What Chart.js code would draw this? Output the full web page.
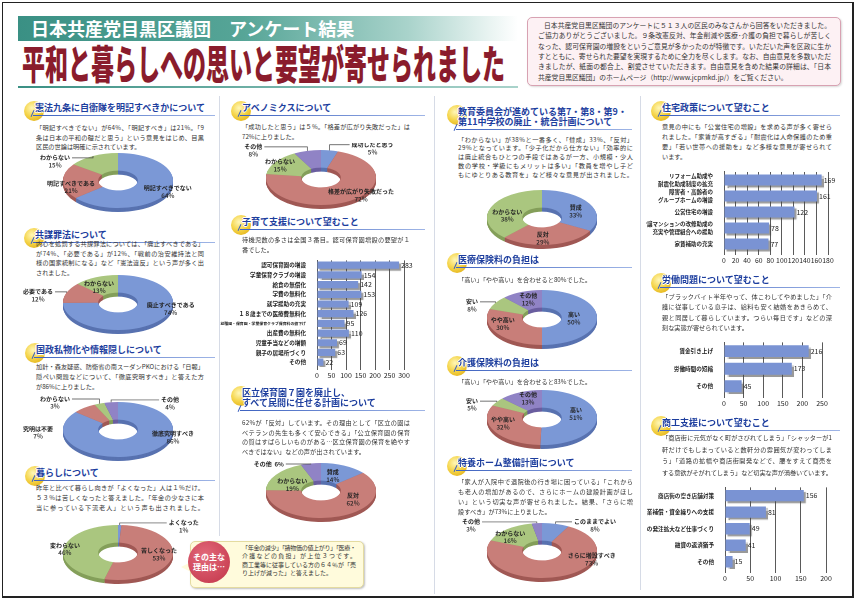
<!DOCTYPE html>
<html>
<head>
<meta charset="utf-8">
<script src="https://cdn.jsdelivr.net/npm/chart.js@4.4.0/dist/chart.umd.min.js"></script>
<style>
  body { margin: 0; width: 857px; height: 600px; position: relative; overflow: hidden; background: #fff;
         font-family: 'Noto Sans CJK JP', sans-serif; color: #333; }
  .abs { position: absolute; }
  .frame { left: 2px; top: 2px; width: 849px; height: 593px; border: 1px solid #222; border-right-width: 2px; border-bottom-width: 2px; }
  .band { left: 18px; top: 16px; width: 500px; height: 25px;
          background: linear-gradient(90deg, #3a9084 0%, #56a597 45%, #a9d3cb 78%, #ffffff 100%); }
  .band span { position: absolute; left: 13px; top: 0; font-size: 18px; line-height: 25px; font-weight: 700; color: #fff; white-space: nowrap; }
  .title { left: 22px; top: 42px; font-size: 40px; line-height: 40px; font-weight: 900; color: #8a1c2c; white-space: nowrap; transform-origin: 0 0; }
  .tline { left: 18px; top: 86px; width: 500px; height: 2px; background: linear-gradient(90deg, #3a9084, #a9d3cb); }
  .intro { left: 527px; top: 17px; width: 312px; height: 67px; border: 1.5px solid #d8a2b2; border-radius: 5px; background: #fdf1f4;
           box-shadow: 1px 1px 2px rgba(0,0,0,.15); }
  .sep { width: 1px; background: #d6dbe6; }
  .dot { border-radius: 50%; background: radial-gradient(circle at 40% 35%, #fff7b8 0%, #f5d54c 45%, #dca400 100%); }
  .htxt { font-size: 9px; line-height: 10px; font-weight: 700; color: #1d3e9e; white-space: nowrap;
          text-shadow: 1px 0 #fff, -1px 0 #fff, 0 1px #fff, 0 -1px #fff; }
  .uline { height: 1px; background: linear-gradient(90deg, #3d62c0, #9fb5e6); }
  .slash { width: 1px; height: 7px; background: #3d62c0; transform: rotate(25deg); }
  .ptxt { white-space: nowrap; color: #333; }
  .callbox { left: 190px; top: 541px; width: 172px; height: 45px; background: #fffbdc; border: 1px solid #e4dba0; border-radius: 5px;
             box-shadow: 1px 1px 2px rgba(0,0,0,.25); }
  .tail { left: 181px; top: 562px; width: 0; height: 0; border-top: 5px solid transparent; border-bottom: 5px solid transparent; border-right: 10px solid #fffbdc; }
  .redc { left: 188px; top: 541px; width: 42px; height: 42px; border-radius: 50%; background: radial-gradient(circle at 40% 35%, #e2697a, #c23448);
          color: #fff; font-weight: 700; font-size: 8px; line-height: 10px; text-align: center; box-sizing: border-box; padding-top: 11px; }
</style>
</head>
<body>
<div class="abs frame"></div>
<div class="abs band"><span>日本共産党目黒区議団　アンケート結果</span></div>
<div class="abs title" id="title">平和と暮らしへの思いと要望が寄せられました</div>
<div class="abs tline"></div>
<div class="abs intro"></div>

<div class="abs sep" style="left:219px;top:96px;height:440px"></div>
<div class="abs sep" style="left:434px;top:96px;height:498px"></div>
<div class="abs sep" style="left:640px;top:96px;height:494px"></div>

<div class="abs tail"></div>
<div class="abs callbox"></div>
<div class="abs redc">その主な<br>理由は…</div>

<script>
'use strict';

const FONT = "'Noto Sans CJK JP', sans-serif";

/* doughnut data */
const kenpoLabels = ['明記すべきでない', '明記すべきである', 'わからない'];
const kenpoValues = [64, 21, 15];

const kyoboLabels = ['廃止すべきである', '必要である', 'わからない'];
const kyoboValues = [74, 12, 13];

const kokuseiLabels = ['徹底究明すべき', '究明は不要', 'わからない', 'その他'];
const kokuseiValues = [86, 7, 3, 4];

const kurashiLabels = ['よくなった', '苦しくなった', '変わらない'];
const kurashiValues = [1, 53, 46];

const abeLabels = ['成功したと思う', '格差が広がり失敗だった', 'わからない', 'その他'];
const abeValues = [5, 72, 15, 8];

const hoikuLabels = ['賛成', '反対', 'わからない', 'その他'];
const hoikuValues = [14, 62, 19, 6];

const kyoikuLabels = ['賛成', '反対', 'わからない'];
const kyoikuValues = [33, 29, 38];

const iryoLabels = ['高い', 'やや高い', '安い', 'その他'];
const iryoValues = [50, 30, 8, 12];

const kaigoLabels = ['高い', 'やや高い', '安い', 'その他'];
const kaigoValues = [51, 32, 5, 13];

const tokuyoLabels = ['このままでよい', 'さらに増設すべき', 'わからない', 'その他'];
const tokuyoValues = [8, 73, 16, 3];

/* bar data */
const careLabels = ['認可保育園の増設', '学童保育クラブの増設', '給食の無償化', '学費の無料化', '就学援助の充実',
  '１８歳までの医療費無料化', '幼稚園・保育園・学童保育クラブ保育料の値下げ', '出産費の無料化', '児童手当などの増額',
  '親子の居場所づくり', 'その他'];
const careValues = [283, 154, 142, 153, 109, 126, 95, 110, 69, 63, 22];

const houseLabels = [['リフォーム助成や', '耐震化助成制度の拡充'], ['障害者・高齢者の', 'グループホームの増設'], '公営住宅の増設',
  ['分譲マンションの改修助成の', '充実や管理組合への援助'], '家賃補助の充実'];
const houseValues = [169, 161, 122, 78, 77];

const laborLabels = ['賃金引き上げ', '労働時間の短縮', 'その他'];
const laborValues = [216, 173, 45];

const shopLabels = ['商店街の空き店舗対策', '休業補償・資金繰りへの支援', '区の発注拡大など仕事づくり', '融資の返済猶予', 'その他'];
const shopValues = [156, 81, 49, 41, 15];

const PALETTE = ['#7b98d6', '#c87e79', '#aac67f', '#9083c5'];
const SIDES = ['#5872b0', '#a05854', '#849f5a', '#6a5e9f'];
const BAR = '#7a93d3';

function el(tag, cls, css, html) {
  const d = document.createElement(tag);
  if (cls) d.className = cls;
  if (css) d.style.cssText = css;
  if (html !== undefined) d.innerHTML = html;
  document.body.appendChild(d);
  return d;
}

/* justified text lines */
function para(x, y, w, lh, size, lines, justifyAll) {
  lines.forEach((s, i) => {
    const d = el('div', 'abs ptxt', `left:${x}px;top:${y - lh / 2 + i * lh}px;font-size:${size}px;line-height:${lh}px;`, s);
    if (i < lines.length - 1 || justifyAll) {
      const nat = d.getBoundingClientRect().width;
      d.style.letterSpacing = ((w - nat) / Math.max(s.length - 1, 1)) + 'px';
    }
  });
}

/* section header: yellow dot, blue title, underline */
function header(x, y, right, lines) {
  el('div', 'abs dot', `left:${x - 11}px;top:${y - 7}px;width:20px;height:20px;`);
  const ly = y + 7 + (lines.length - 1) * 10;
  el('div', 'abs uline', `left:${x - 2}px;top:${ly}px;width:${right - x + 2}px;`);
  el('div', 'abs slash', `left:${x - 3}px;top:${ly - 5}px;`);
  lines.forEach((s, i) => el('div', 'abs htxt', `left:${x}px;top:${y - 5 + i * 10}px;`, s));
}

/* 3D doughnut with labels */
const donutPlugin = {
  id: 'donut3d',
  beforeDatasetsDraw(chart, args, opts) {
    const ctx = chart.ctx;
    const arcs = chart.getDatasetMeta(0).data;
    ctx.save();
    for (let t = opts.depth; t > 0; t--) {
      arcs.forEach((a, i) => {
        ctx.beginPath();
        ctx.arc(a.x, a.y + t, a.outerRadius, a.startAngle, a.endAngle);
        ctx.arc(a.x, a.y + t, a.innerRadius, a.endAngle, a.startAngle, true);
        ctx.closePath();
        ctx.fillStyle = SIDES[i];
        ctx.fill();
      });
    }
    ctx.restore();
  },
  afterDatasetsDraw(chart, args, opts) {
    const ctx = chart.ctx, sy = opts.sy;
    const arcs = chart.getDatasetMeta(0).data;
    const values = chart.data.datasets[0].data;
    ctx.save();
    ctx.scale(1, 1 / sy);
    ctx.textAlign = 'center';
    ctx.textBaseline = 'middle';
    ctx.fillStyle = '#222';
    ctx.strokeStyle = '#444';
    ctx.lineWidth = 0.7;
    arcs.forEach((a, i) => {
      const p = opts.place[i];
      const mode = p[0];
      const mid = (a.startAngle + a.endAngle) / 2;
      const r = mode === 'in' ? (a.innerRadius + a.outerRadius) / 2 : a.outerRadius;
      const ax = a.x + r * Math.cos(mid);
      const ay = (a.y + r * Math.sin(mid)) * sy;
      const lx = ax + p[1], ly = ay + p[2];
      const name = chart.data.labels[i], pct = values[i] + '%';
      let lineY, halfW;
      ctx.font = `bold 6px ${FONT}`;
      if (mode === 'one') {
        const txt = name + '  ' + pct;
        ctx.fillText(txt, lx, ly);
        lineY = ly;
        halfW = ctx.measureText(txt).width / 2;
      } else {
        ctx.fillText(name, lx, ly - 3.6);
        halfW = ctx.measureText(name).width / 2;
        ctx.font = `500 6.3px ${FONT}`;
        ctx.fillText(pct, lx, ly + 3.6);
        lineY = ly - 3.6;
      }
      if (mode !== 'in') {
        const side = ax > lx ? 1 : -1;
        ctx.beginPath();
        ctx.moveTo(lx + side * (halfW + 2), lineY);
        ctx.lineTo(ax, lineY);
        ctx.lineTo(ax, ay);
        ctx.stroke();
      }
    });
    ctx.restore();
  }
};

function donut(cx, faceTop, labels, values, place) {
  const W = 200, H = 132, PT = 14, sy = 0.5;
  const wrap = el('div', 'abs', `left:${cx - W / 2}px;top:${faceTop - PT * sy}px;width:${W}px;height:${H}px;transform:scaleY(${sy});transform-origin:0 0;`);
  const cv = document.createElement('canvas');
  cv.width = W; cv.height = H;
  wrap.appendChild(cv);
  new Chart(cv, {
    type: 'doughnut',
    data: { labels: labels, datasets: [{ data: values, backgroundColor: PALETTE, borderWidth: 0, hoverOffset: 0, offset: 0 }] },
    options: {
      responsive: false, animation: false, cutout: '36%',
      layout: { padding: { top: PT, bottom: H - PT - 110, left: 0, right: 0 } },
      plugins: { legend: { display: false }, tooltip: { enabled: false }, donut3d: { sy: sy, depth: 8, place: place } },
      events: []
    },
    plugins: [donutPlugin]
  });
}

/* horizontal bars with value labels */
const barPlugin = {
  id: 'barDeco',
  beforeDatasetsDraw(chart) {
    const ctx = chart.ctx;
    ctx.save();
    ctx.shadowColor = 'rgba(70,70,70,0.55)';
    ctx.shadowOffsetX = 2;
    ctx.shadowOffsetY = 2;
    ctx.shadowBlur = 1;
  },
  afterDatasetsDraw(chart) {
    const ctx = chart.ctx;
    ctx.restore();
    const values = chart.data.datasets[0].data;
    ctx.save();
    ctx.font = `7px ${FONT}`;
    ctx.fillStyle = '#222';
    ctx.textAlign = 'left';
    ctx.textBaseline = 'middle';
    chart.getDatasetMeta(0).data.forEach((b, i) => ctx.fillText(values[i], b.x + 2, b.y));
    ctx.restore();
  }
};

function bars(plotLeft, plotTop, yW, plotW, plotH, labels, values, max, step, pct, labelSize, tickSize, lineH) {
  const PR = 14, PT = 2, XH = 12;
  const W = yW + plotW + PR, H = PT + plotH + XH;
  const cv = el('canvas', 'abs', `left:${plotLeft - yW}px;top:${plotTop - PT}px;`);
  cv.width = W; cv.height = H;
  new Chart(cv, {
    type: 'bar',
    data: { labels: labels, datasets: [{ data: values, backgroundColor: BAR, categoryPercentage: 1, barPercentage: pct }] },
    options: {
      indexAxis: 'y', responsive: false, animation: false, events: [],
      layout: { padding: { top: PT, right: PR, left: 0, bottom: 0 } },
      plugins: { legend: { display: false }, tooltip: { enabled: false } },
      scales: {
        x: {
          min: 0, max: max,
          ticks: { stepSize: step, autoSkip: false, maxRotation: 0, color: '#222', padding: 1, font: { family: FONT, size: tickSize } },
          grid: { color: '#5a5a5a', lineWidth: 1, tickLength: 3 },
          border: { display: false },
          afterFit(s) { s.height = XH; }
        },
        y: {
          ticks: { autoSkip: false, color: '#222', padding: 3, font: labelSize },
          grid: { display: false },
          border: { color: '#5a5a5a' },
          afterFit(s) { s.width = yW; }
        }
      }
    },
    plugins: [barPlugin]
  });
}

/* ---- header ---- */
const t = document.getElementById('title');
t.style.transform = `scaleX(${483 / t.getBoundingClientRect().width})`;

para(544, 25, 287, 10.4, 6.8, ['日本共産党目黒区議団のアンケートに５１３人の区民のみなさんから回答をいただきました。'], true);
para(538, 35.4, 293, 10.4, 6.8, [
  'ご協力ありがとうございました。９条改憲反対、年金削減や医療･介護の負担で暮らしが苦しく',
  'なった、認可保育園の増設をというご意見が多かったのが特徴です。いただいた声を区政に生か',
  'すとともに、寄せられた要望を実現するために全力を尽くします。なお、自由意見を多数いただ',
  'きましたが、紙面の都合上、割愛させていただきます。自由意見を含めた結果の詳細は、「日本',
  '共産党目黒区議団」のホームページ（http://www.jcpmkd.jp/）をご覧ください。'
]);

/* ---- column 1 ---- */
header(35, 108, 215, ['憲法九条に自衛隊を明記すべきかについて']);
para(36, 128, 168, 9.5, 6.2, [
  '「明記すべきでない」が64%、「明記すべき」は21%。「9',
  '条は日本の平和の礎だと思う」という意見をはじめ、目黒',
  '区民の世論は明確に示されています。'
]);
donut(118, 153, kenpoLabels, kenpoValues, [['in', 16, 3.5], ['in', -9.5, 6], ['out', -38, 5.5]]);

header(35, 235, 215, ['共謀罪法について']);
para(36, 244, 168, 9.4, 6.2, [
  '内心を処罰する共謀罪法については、「廃止すべきである」',
  'が74%、「必要である」が12%、「戦前の治安維持法と同',
  '様の国家統制になる」など「憲法違反」という声が多く出',
  'されました。'
]);
donut(118, 275, kyoboLabels, kyoboValues, [['in', 26, -6.6], ['out', -28.6, 2.8], ['in', -4, 1.7]]);

header(36, 350, 215, ['国政私物化や情報隠しについて']);
para(36, 367, 168, 10, 6.2, [
  '加計・森友疑惑、防衛省の南スーダンPKOにおける「日報」',
  '隠ぺい問題などについて、「徹底究明すべき」と答えた方',
  'が86%に上りました。'
]);
donut(118, 402, kokuseiLabels, kokuseiValues, [['in', 39, -9], ['in', -57, 18], ['out', -44.4, -1], ['out', 59, 1.3]]);

header(36, 473, 215, ['暮らしについて']);
para(36, 488, 168, 10, 6.2, [
  '昨年と比べて暮らし向きが「よくなった」人は１%だけ。',
  '５３%は苦しくなったと答えました。「年金の少なさに本',
  '当に参っている下流老人」という声も出されました。'
], true);
donut(118, 525, kurashiLabels, kurashiValues, [['out', 64, 1.5], ['in', 4, -1], ['in', -16, -1]]);

/* ---- column 2 ---- */
header(242, 108, 425, ['アベノミクスについて']);
para(242, 127, 168, 10, 6.2, [
  '「成功したと思う」は５%。「格差が広がり失敗だった」は',
  '72%に上りました。'
]);
donut(321, 150, abeLabels, abeValues, [['out', 43, -2], ['in', 20, 2], ['in', -10, -1.5], ['out', -54, -0.4]]);

header(242, 222, 425, ['子育て支援について望むこと']);
para(242, 240, 168, 10, 6.2, [
  '待機児数の多さは全国３番目。認可保育園増設の要望が１',
  '番でした。'
]);
bars(317, 256, 101, 87, 111, careLabels, careValues, 300, 50, 0.74,
  c => ({ family: FONT, weight: 'bold', size: String(c.tick && c.tick.label).length > 14 ? 3.9 : 5.6 }), 7, 1.2);

header(242, 393, 425, ['区立保育園７園を廃止し、', 'すべて民間に任せる計画について']);
para(242, 423, 168, 9.4, 6.2, [
  '62%が「反対」しています。その理由として「区立の園は',
  'ベテランの先生も多くて安心できる」「公立保育園の保育',
  'の質はすばらしいものがある…区立保育園の保育を絶やす',
  'べきではない」などの声が出されています。'
]);
donut(321, 463, hoikuLabels, hoikuValues, [['in', -4, 2.5], ['in', 19.5, -8.7], ['in', 2, 5], ['one', -42, 0.5]]);

para(242, 548, 114, 8.4, 6, [
  '「年金の減少」「諸物価の値上がり」「医療・',
  '介護などの負担」が上位３つです。',
  '商工業等に従事している方の６４％が「売',
  'り上げが減った」と答えました。'
]);

/* ---- column 3 ---- */
header(458, 112, 632, ['教育委員会が進めている第7・第8・第9・', '第11中学校の廃止・統合計画について']);
para(458, 140, 175, 8.8, 6.2, [
  '「わからない」が38%と一番多く、「賛成」33%、「反対」',
  '29%となっています。「少子化だから仕方ない」「効率的に',
  'は廃止統合もひとつの手段ではあるが一方、小規模・少人',
  '数の学校・学級にもメリットは多い」「教員を増やし子ど',
  'もにゆとりある教育を」など様々な意見が出されました。'
], true);
donut(542, 190, kyoikuLabels, kyoikuValues, [['in', 1.5, 3.5], ['in', -5, 2.5], ['in', 0, 5]]);

header(458, 260, 632, ['医療保険料の負担は']);
para(458, 280, 175, 10, 6.2, ['「高い」「やや高い」を合わせると80%でした。']);
donut(542, 290, iryoLabels, iryoValues, [['in', -5.5, 1], ['in', -9, -4.5], ['out', -23.6, 2.7], ['in', 0, -0.6]]);

header(458, 363, 632, ['介護保険料の負担は']);
para(458, 382, 175, 10, 6.2, ['「高い」「やや高い」を合わせると83%でした。']);
donut(542, 390, kaigoLabels, kaigoValues, [['in', -3.5, -4], ['in', -7, -3.7], ['out', -24.8, 2.9], ['in', 0.7, -2]]);

header(458, 463, 632, ['特養ホーム整備計画について']);
para(458, 482, 175, 10, 6.2, [
  '「家人が入院中で退院後の行き場に困っている」「これから',
  'も老人の増加があるので、さらにホームの建設計画がほし',
  'い」という切実な声が寄せられました。結果、「さらに増',
  '設すべき」が73%に上りました。'
]);
donut(542, 523, tokuyoLabels, tokuyoValues, [['out', 39.3, 1.6], ['in', 37, -8.8], ['in', -8, 1], ['out', -65.8, 2.4]]);

/* ---- column 4 ---- */
header(662, 108, 840, ['住宅政策について望むこと']);
para(662, 127, 170, 10, 6.2, [
  '意見の中にも「公営住宅の増設」を求める声が多く寄せら',
  'れました。「家賃が高すぎる」「耐震化は人命保護のため重',
  '要」「若い世帯への援助を」など多様な意見が寄せられて',
  'います。'
]);
bars(724, 167, 78, 104, 85, houseLabels, houseValues, 180, 20, 0.7,
  { family: FONT, weight: 'bold', size: 5.5, lineHeight: 1.45 }, 6.8);

header(662, 280, 840, ['労働問題について望むこと']);
para(662, 297, 170, 10.4, 6.2, [
  '「ブラックバイト半年やって、体こわしてやめました」「介',
  '護に従事している息子は、給料も安く結婚をあきらめて、',
  '親と同居して暮らしています。つらい毎日です」などの深',
  '刻な実態が寄せられています。'
]);
bars(724, 338, 78, 98, 57, laborLabels, laborValues, 250, 50, 0.68,
  { family: FONT, weight: 'bold', size: 5.6 }, 7);

header(662, 423, 840, ['商工支援について望むこと']);
para(662, 438, 170, 11.5, 6.2, [
  '「商店街に元気がなく町がさびれてしまう」「シャッターが1',
  '軒だけでもしまっていると数軒分の雰囲気が変わってしま',
  'う」「道路の拡幅や商店街開発などで、腰をすえて商売を',
  'する意欲がそがれてしまう」など切実な声が渦巻いています。'
], true);
bars(725, 483, 78, 101, 87, shopLabels, shopValues, 200, 50, 0.69,
  { family: FONT, weight: 'bold', size: 5.6 }, 7);
</script>
</body>
</html>
